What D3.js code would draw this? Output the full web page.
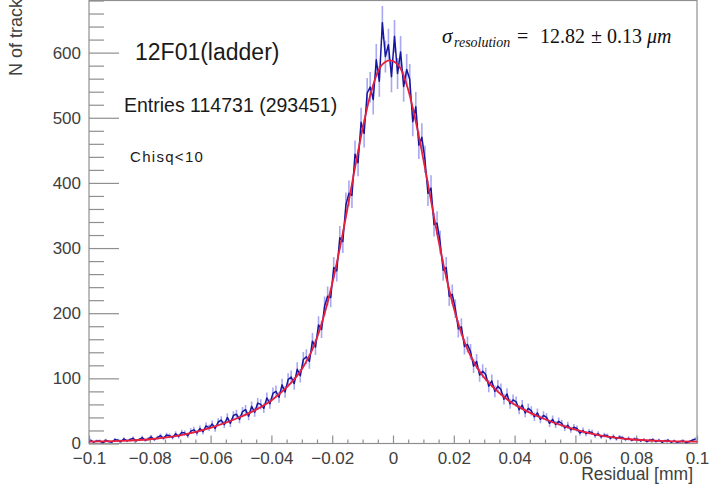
<!DOCTYPE html>
<html>
<head>
<meta charset="utf-8">
<script src="https://cdn.jsdelivr.net/npm/d3@7"></script>
<style>
  html, body { margin: 0; padding: 0; background: #fff; }
  svg { display: block; }
  text { font-family: "Liberation Sans", Arial, sans-serif; }
</style>
</head>
<body>
<svg id="chart" width="711" height="486"></svg>
<script>
// ---- data ----
const histMin = -0.1;
const histBinWidth = 0.001;
const counts = [
  5,2,4,4,1,5,3,2,6,5, 3,7,4,6,8,4,6,9,5,7,
  10,6,9,12,8,13,12,9,15,11, 17,16,12,19,21,16,23,18,27,24,
  30,23,33,36,29,40,31,43,45,37, 49,52,42,57,48,62,60,54,70,61,
  77,80,71,90,79,98,102,92,114,104, 129,133,126,157,148,182,175,211,226,224,
  270,265,316,310,366,384,381,444,431,493, 476,538,547,528,589,556,646,594,612,
  563,625,568,601,548,574,559,494,517,458, 470,436,384,392,336,338,309,266,270,226,
  229,207,176,179,149,152,141,119,126,105, 111,106,88,96,80,88,83,68,76,61,
  67,64,52,59,47,54,50,41,47,37, 43,40,31,37,29,34,31,24,28,21,
  25,23,16,20,15,18,17,12,15,10, 13,12,8,11,7,10,9,6,8,5,
  7,6,4,6,3,5,6,3,5,2, 4,5,2,4,2,3,4,1,3,5, 7
];
const fitX = [-0.1,-0.09,-0.08,-0.07,-0.06,-0.05,-0.045,-0.04,-0.035,-0.03,-0.026,-0.022,-0.019,-0.016,-0.013,-0.01,-0.007,-0.004,-0.001,
              0.002,0.005,0.008,0.011,0.014,0.017,0.02,0.024,0.028,0.033,0.038,0.043,0.048,0.058,0.068,0.078,0.088,0.1];
const fitY = [3,4,6.5,12.5,24,41,52,66,86,114,150,208,266,335,411,483,543,579,588,
              579,543,483,411,335,266,208,150,114,86,66,52,41,24,12.5,6.5,4,3];
const xTicks = [-0.1,-0.08,-0.06,-0.04,-0.02,0,0.02,0.04,0.06,0.08,0.1];
const xTickLabels = ["\u22120.1","\u22120.08","\u22120.06","\u22120.04","\u22120.02","0","0.02","0.04","0.06","0.08","0.1"];
const yTicks = [0,100,200,300,400,500,600];
const yTickLabels = ["0","100","200","300","400","500","600"];

// ---- layout ----
const L = 89, R = 697, T = 0.5, B = 443.5;
const svg = d3.select("#chart");
const x = d3.scaleLinear().domain([-0.1, 0.1]).range([L, R]);
const y = d3.scaleLinear().domain([0, 680]).range([B, T]);

const axisColor = "#8f8f8f";
const labelColor = "#404040";

svg.append("defs").append("clipPath").attr("id", "clip")
  .append("rect").attr("x", L).attr("y", T).attr("width", R - L).attr("height", B - T);

// Y axis: minor ticks
const yMinor = d3.range(0, 681, 20).filter(v => v % 100 !== 0);
svg.append("g").attr("transform", `translate(${L},0)`)
  .call(d3.axisLeft(y).tickValues(yMinor).tickSize(-15).tickFormat(""))
  .call(g => g.select(".domain").remove())
  .call(g => g.selectAll("line").attr("stroke", axisColor).attr("stroke-width", 1.2));
// Y axis: major ticks
svg.append("g").attr("transform", `translate(${L},0)`)
  .call(d3.axisLeft(y).tickValues(yTicks).tickSize(-30).tickPadding(8)
        .tickFormat((d, i) => yTickLabels[i]))
  .call(g => g.select(".domain").remove())
  .call(g => g.selectAll("line").attr("stroke", axisColor).attr("stroke-width", 1.2))
  .call(g => g.selectAll("text").attr("fill", labelColor).style("font-size", "17px")
        .style("font-family", "'Liberation Sans', Arial, sans-serif"));

// X axis: minor ticks
const xMinor = d3.range(-20, 21).map(k => k * 0.005).filter((v, i) => (i % 4) !== 0);
svg.append("g").attr("transform", `translate(0,${B})`)
  .call(d3.axisBottom(x).tickValues(xMinor).tickSize(-4).tickFormat(""))
  .call(g => g.select(".domain").remove())
  .call(g => g.selectAll("line").attr("stroke", axisColor).attr("stroke-width", 1.2));
svg.append("g").attr("transform", `translate(0,${B})`)
  .call(d3.axisBottom(x).tickValues(xTicks).tickSize(-8).tickPadding(8)
        .tickFormat((d, i) => xTickLabels[i]))
  .call(g => g.select(".domain").remove())
  .call(g => g.selectAll("line").attr("stroke", axisColor).attr("stroke-width", 1.2))
  .call(g => g.selectAll("text").attr("fill", labelColor).style("font-size", "17px")
        .style("font-family", "'Liberation Sans', Arial, sans-serif"));

// frame
svg.append("rect").attr("x", L).attr("y", T).attr("width", R - L).attr("height", B - T)
  .attr("fill", "none").attr("stroke", axisColor).attr("stroke-width", 1.2);

// histogram
const bins = counts.map((c, i) => ({ xc: histMin + (i + 0.5) * histBinWidth, c }));
const plot = svg.append("g").attr("clip-path", "url(#clip)");

plot.append("g").selectAll("line").data(bins).join("line")
  .attr("x1", d => x(d.xc)).attr("x2", d => x(d.xc))
  .attr("y1", d => y(d.c - Math.sqrt(d.c))).attr("y2", d => y(d.c + Math.sqrt(d.c)))
  .attr("stroke", "rgba(80,80,230,0.5)").attr("stroke-width", 1.6);

plot.append("path").datum(bins)
  .attr("d", d3.line().x(d => x(d.xc)).y(d => y(d.c)))
  .attr("fill", "none").attr("stroke", "#16169e").attr("stroke-width", 1.5)
  .attr("stroke-linejoin", "round");

// fit
plot.append("path").datum(fitX.map((v, i) => [v, fitY[i]]))
  .attr("d", d3.line().x(d => x(d[0])).y(d => y(d[1])).curve(d3.curveMonotoneX))
  .attr("fill", "none").attr("stroke", "#e8203c").attr("stroke-width", 1.8);

// axis titles
svg.append("text").attr("transform", "translate(21.5,76) rotate(-90)")
  .attr("text-anchor", "start").style("font-size", "18px").attr("fill", labelColor)
  .text("N of tracks");
svg.append("text").attr("x", 693).attr("y", 480).attr("text-anchor", "end")
  .style("font-size", "17.5px").attr("fill", labelColor).text("Residual [mm]");

// annotations
svg.append("text").attr("x", 135).attr("y", 60).style("font-size", "23px")
  .attr("fill", "#1a1a1a").text("12F01(ladder)");
svg.append("text").attr("x", 124).attr("y", 112).style("font-size", "19.5px")
  .attr("fill", "#1a1a1a").text("Entries 114731 (293451)");
svg.append("text").attr("x", 130).attr("y", 162).style("font-size", "15px")
  .style("letter-spacing", "1.3px").attr("fill", "#1a1a1a").text("Chisq<10");

const sig = svg.append("text").attr("y", 43)
  .style("font-family", "'Liberation Serif', 'DejaVu Serif', serif").attr("fill", "#111");
sig.append("tspan").attr("x", 442).style("font-size", "21px").style("font-style", "italic").text("σ");
sig.append("tspan").attr("x", 454).attr("dy", 4).style("font-size", "14px").style("font-style", "italic").text("resolution");
sig.append("tspan").attr("x", 517).attr("dy", -4).style("font-size", "20px").text("=");
sig.append("tspan").attr("x", 540).style("font-size", "20px").text("12.82");
sig.append("tspan").attr("x", 591).style("font-size", "20px").text("±");
sig.append("tspan").attr("x", 607).style("font-size", "20px").text("0.13");
sig.append("tspan").attr("x", 647).style("font-size", "20px").style("font-style", "italic").text("μm");
</script>
</body>
</html>
